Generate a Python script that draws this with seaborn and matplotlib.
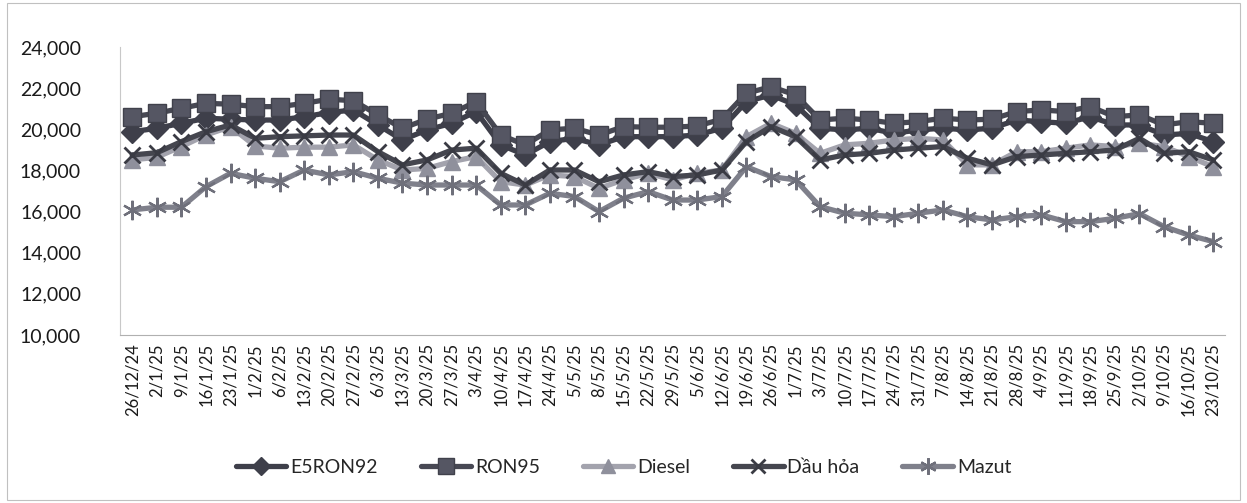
import numpy as np
import pandas as pd
import matplotlib
matplotlib.use("Agg")
import matplotlib.pyplot as plt
import seaborn as sns
from matplotlib.patches import Rectangle

dates = ["26/12/24", "2/1/25", "9/1/25", "16/1/25", "23/1/25", "1/2/25", "6/2/25", "13/2/25",
         "20/2/25", "27/2/25", "6/3/25", "13/3/25", "20/3/25", "27/3/25", "3/4/25", "10/4/25",
         "17/4/25", "24/4/25", "5/5/25", "8/5/25", "15/5/25", "22/5/25", "29/5/25", "5/6/25",
         "12/6/25", "19/6/25", "26/6/25", "1/7/25", "3/7/25", "10/7/25", "17/7/25", "24/7/25",
         "31/7/25", "7/8/25", "14/8/25", "21/8/25", "28/8/25", "4/9/25", "11/9/25", "18/9/25",
         "25/9/25", "2/10/25", "9/10/25", "16/10/25", "23/10/25"]

e5ron92 = [19880, 20050, 20290, 20535, 20490, 20450, 20450, 20610, 20810, 20940, 20210, 19480,
           19970, 20290, 20860, 19240, 18750, 19400, 19560, 19240, 19640, 19640, 19640, 19720,
           20050, 21340, 21670, 21180, 20050, 19970, 20050, 19800, 19970, 20050, 19970, 20050,
           20450, 20370, 20290, 20610, 20210, 20210, 19720, 19800, 19400]
ron95 = [20610, 20780, 21020, 21260, 21220, 21100, 21100, 21260, 21460, 21390, 20700, 20050,
         20490, 20780, 21340, 19720, 19240, 19970, 20050, 19720, 20130, 20100, 20100, 20160,
         20490, 21750, 22070, 21670, 20450, 20540, 20450, 20290, 20370, 20540, 20450, 20490,
         20860, 20940, 20860, 21100, 20610, 20700, 20210, 20370, 20290]
diesel = [18510, 18640, 19160, 19720, 20130, 19190, 19080, 19130, 19130, 19240, 18510, 18020,
          18100, 18430, 18670, 17450, 17290, 17780, 17700, 17130, 17540, 17860, 17540, 17860,
          18020, 19640, 20290, 19800, 18830, 19240, 19320, 19480, 19560, 19480, 18270, 18270,
          18910, 18910, 19080, 19240, 19160, 19320, 19160, 18670, 18180]
dau_hoa = [18750, 18860, 19400, 19880, 20210, 19560, 19640, 19680, 19720, 19720, 18910, 18270,
           18510, 18990, 19080, 17860, 17290, 18020, 18020, 17450, 17780, 17940, 17700, 17780,
           18020, 19400, 20130, 19640, 18510, 18750, 18830, 18990, 19080, 19160, 18590, 18270,
           18670, 18750, 18830, 18910, 18990, 19560, 18830, 18910, 18510]
mazut = [16080, 16210, 16210, 17210, 17860, 17620, 17450, 18020, 17780, 17940, 17620, 17380,
         17290, 17290, 17290, 16320, 16320, 16890, 16730, 16000, 16650, 16970, 16560, 16560,
         16730, 18180, 17700, 17540, 16240, 15920, 15840, 15750, 15920, 16080, 15750, 15590,
         15750, 15840, 15510, 15510, 15670, 15900, 15270, 14860, 14540]

series_names = ["E5RON92", "RON95", "Diesel", "Dầu hỏa", "Mazut"]
series_values = [e5ron92, ron95, diesel, dau_hoa, mazut]
y_ticks = [10000, 12000, 14000, 16000, 18000, 20000, 22000, 24000]

sns.set_theme(style="white")
plt.rcParams['font.family'] = ['Lato', 'Noto Sans', 'DejaVu Sans']

styles = {
    "E5RON92": dict(color="#3e3f4a", marker="D", ms=11, mec="#3e3f4a", mew=1.0, lw=3.8, mfc="#3e3f4a"),
    "RON95": dict(color="#474853", marker="s", ms=13, mec="#40414b", mew=1.0, lw=3.8, mfc="#555663"),
    "Diesel": dict(color="#a3a3ad", marker="^", ms=12, mec="#8f909c", mew=1.0, lw=3.8, mfc="#8f909c"),
    "Dầu hỏa": dict(color="#45464f", marker="x", ms=12, mec="#3a3b44", mew=2.0, lw=3.8, mfc="none"),
    "Mazut": dict(color="#7f808b", marker=(6, 2, 0), ms=14, mec="#6f707b", mew=1.6, lw=3.8, mfc="none"),
}

fig = plt.figure(figsize=(12.47, 5.03), dpi=100)
ax = fig.add_axes([0.0962, 0.334, 0.8865, 0.5726])

x_idx = np.arange(len(dates))
for name, vals in zip(series_names, series_values):
    st = styles[name]
    df = pd.DataFrame({"x": x_idx, "value": vals})
    sns.lineplot(data=df, x="x", y="value", ax=ax, color=st["color"], linewidth=st["lw"],
                 marker=st["marker"], markersize=st["ms"], markeredgecolor=st["mec"],
                 markeredgewidth=st["mew"], markerfacecolor=st["mfc"], label=name)

ax.set_xlim(-0.5, len(dates) - 0.5)
ax.set_ylim(10000, 24000)
ax.set_yticks(y_ticks)
ax.set_yticklabels([f"{v:,}" for v in y_ticks], fontsize=14, color="#1a1a1a")
ax.set_xticks(x_idx)
ax.set_xticklabels(dates, rotation=90, fontsize=12, color="#1a1a1a")
ax.tick_params(axis="x", length=0, pad=6)
ax.tick_params(axis="y", length=0, pad=28)
ax.set_xlabel("")
ax.set_ylabel("")
for side in ["top", "right"]:
    ax.spines[side].set_visible(False)
ax.spines["left"].set_color("#c8c8c8")
ax.spines["left"].set_linewidth(0.8)
ax.spines["bottom"].set_color("#b0b0b0")
ax.spines["bottom"].set_linewidth(0.8)
ax.grid(False)

ax.legend_.remove()
handles, labels = ax.get_legend_handles_labels()
fig.legend(handles, labels, loc="center", bbox_to_anchor=(0.5, 0.07), ncol=5, frameon=False,
           fontsize=14, handlelength=2.6, columnspacing=2.2, handletextpad=0.2, markerscale=0.85)

fig.patches.append(Rectangle((0.006, 0.006), 0.988, 0.988, transform=fig.transFigure,
                             fill=False, edgecolor="#c0c0c0", linewidth=0.8))

fig.savefig("out.png", dpi=100, facecolor="white")
